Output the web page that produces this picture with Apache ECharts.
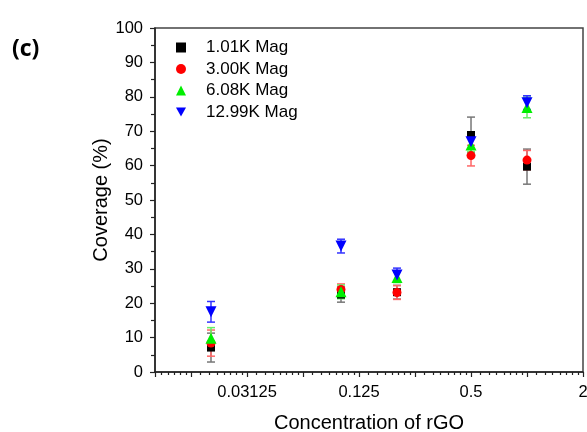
<!DOCTYPE html>
<html>
<head>
<meta charset="utf-8">
<script src="https://cdn.jsdelivr.net/npm/echarts@6/dist/echarts.min.js"></script>
<style>
  html, body { margin: 0; padding: 0; background: #fff; }
  #chart { width: 587px; height: 432px; }
</style>
</head>
<body>
<div id="chart"></div>
<script>
// rGO concentration (log2 axis)
const concentrations = [0.02, 0.1, 0.2, 0.5, 1]
const seriesNames = ['1.01K Mag', '3.00K Mag', '6.08K Mag', '12.99K Mag']
// coverage (%) means and error bars
const mag101 = [7.1, 22.5, 23.2, 68.9, 59.7]
const mag101Err = [4.2, 2.2, 2.0, 5.2, 5.1]
const mag300 = [8.4, 24.0, 23.1, 62.9, 61.6]
const mag300Err = [3.8, 1.6, 2.0, 3.0, 2.8]
const mag608 = [9.8, 23.3, 27.5, 66.0, 76.9]
const mag608Err = [3.1, 2.0, 1.5, 2.0, 3.0]
const mag1299 = [17.5, 36.6, 28.2, 66.9, 78.3]
const mag1299Err = [3.0, 2.0, 2.0, 2.0, 2.0]
const yTicks = [0, 100, 10]

const means = [mag101, mag300, mag608, mag1299]
const errs = [mag101Err, mag300Err, mag608Err, mag1299Err]
const colors = ['#000000', '#ff0000', '#00ee00', '#0000ff']
const errColors = ['#777777', '#ff6666', '#66ee66', '#3333ff']
const symbols = ['rect', 'circle', 'triangle', 'triangle']
const legendIcons = ['rect', 'circle', 'triangle', 'path://M0,0 L10,0 L5,9 Z']
const symbolSizes = [8, 9, 11, 11]
const rotates = [0, 0, 0, 180]

const font = '"Liberation Sans", Arial, sans-serif'

const series = []
means.forEach((m, k) => {
  series.push({
    name: seriesNames[k] + ' err',
    type: 'custom',
    z: 1,
    data: concentrations.map((x, i) => [x, m[i], errs[k][i]]),
    renderItem: (params, api) => {
      const x = api.value(0), y = api.value(1), e = api.value(2)
      const lo = api.coord([x, y - e])
      const hi = api.coord([x, y + e])
      const style = { stroke: errColors[k], lineWidth: 1.5 }
      return {
        type: 'group',
        children: [
          { type: 'line', shape: { x1: lo[0], y1: lo[1], x2: hi[0], y2: hi[1] }, style },
          { type: 'line', shape: { x1: lo[0] - 4, y1: lo[1], x2: lo[0] + 4, y2: lo[1] }, style },
          { type: 'line', shape: { x1: hi[0] - 4, y1: hi[1], x2: hi[0] + 4, y2: hi[1] }, style }
        ]
      }
    }
  })
})
means.forEach((m, k) => {
  series.push({
    name: seriesNames[k],
    type: 'scatter',
    z: 2,
    symbol: symbols[k],
    symbolSize: symbolSizes[k],
    symbolRotate: rotates[k],
    itemStyle: { color: colors[k], opacity: 1 },
    data: concentrations.map((x, i) => [x, m[i]])
  })
})

const chart = echarts.init(document.getElementById('chart'), null, { renderer: 'canvas' })
chart.setOption({
  backgroundColor: '#fff',
  animation: false,
  textStyle: { fontFamily: font },
  graphic: [{
    type: 'text', left: 12, top: 38,
    style: { text: '(c)', font: 'bold 23px "Open Sans", sans-serif', fill: '#000' }
  }],
  grid: {
    left: 155, right: 4, top: 28, bottom: 60,
    outerBoundsMode: 'none',
    show: true, borderColor: '#444', borderWidth: 1.5, backgroundColor: 'transparent'
  },
  legend: {
    data: seriesNames.map((n, k) => ({ name: n, icon: legendIcons[k] })),
    orient: 'vertical',
    left: 171, top: 34,
    itemWidth: 10, itemHeight: 10, itemGap: 4.5,
    textStyle: { fontSize: 17, color: '#000', fontFamily: font, padding: [0, 0, 0, 15] }
  },
  xAxis: {
    type: 'log',
    logBase: 2,
    min: 0.01,
    max: 2,
    splitNumber: 8,
    name: 'Concentration of rGO',
    nameLocation: 'middle',
    nameGap: 41,
    nameTextStyle: { fontSize: 20, color: '#000', fontFamily: font },
    axisLine: { lineStyle: { color: '#222', width: 1.5 } },
    axisTick: { length: 5, lineStyle: { color: '#222', width: 1.2 } },
    minorTick: { show: true, splitNumber: 8, length: 3, lineStyle: { color: '#222', width: 1.2 } },
    splitLine: { show: false },
    axisLabel: {
      fontSize: 16.5, color: '#000', margin: 12, fontFamily: font,
      formatter: v => {
        const e = Math.log2(v)
        const r = Math.round(e)
        if (Math.abs(e - r) > 1e-6 || Math.abs(r % 2) !== 1) return ''
        return String(Math.pow(2, r))
      }
    }
  },
  yAxis: {
    type: 'value',
    min: yTicks[0],
    max: yTicks[1],
    interval: yTicks[2],
    name: 'Coverage (%)',
    nameLocation: 'middle',
    nameGap: 44,
    nameMoveOverlap: false,
    nameTextStyle: { fontSize: 20, color: '#000', fontFamily: font },
    axisLine: { show: true, lineStyle: { color: '#222', width: 1.5 } },
    axisTick: { length: 5, lineStyle: { color: '#222', width: 1.2 } },
    minorTick: { show: true, splitNumber: 2, length: 4, lineStyle: { color: '#222', width: 1.2 } },
    splitLine: { show: false },
    axisLabel: { fontSize: 16.5, color: '#000', margin: 12, fontFamily: font }
  },
  series
})
</script>
</body>
</html>
